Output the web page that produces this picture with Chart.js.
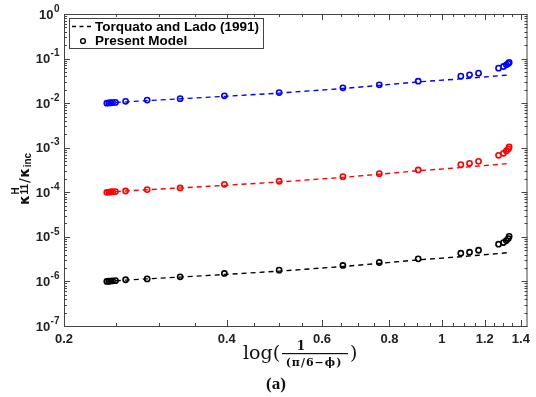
<!DOCTYPE html>
<html>
<head>
<meta charset="utf-8">
<script src="https://cdn.jsdelivr.net/npm/chart.js"></script>
<style>
html, body { margin: 0; padding: 0; background: #fff; }
</style>
</head>
<body>
<canvas id="chart" width="536" height="397"></canvas>
<script>
// x positions of the "Present Model" points and of the Torquato & Lado curve
const xModel = [0.240, 0.242, 0.244, 0.246, 0.249, 0.260, 0.285, 0.328, 0.396, 0.500, 0.656,
                0.766, 0.904, 1.084, 1.125, 1.169, 1.273, 1.300, 1.316, 1.327, 1.332];
const xTheory = [0.240, 0.260, 0.285, 0.328, 0.396, 0.500, 0.656, 0.766, 0.904, 1.084, 1.169, 1.273, 1.335];

const blueModel = [1.00e-2, 1.01e-2, 1.02e-2, 1.03e-2, 1.04e-2, 1.10e-2, 1.17e-2, 1.26e-2, 1.46e-2, 1.73e-2, 2.21e-2,
                   2.58e-2, 3.11e-2, 4.03e-2, 4.32e-2, 4.71e-2, 6.09e-2, 6.64e-2, 7.24e-2, 7.75e-2, 8.20e-2];
const redModel = [1.00e-4, 1.01e-4, 1.02e-4, 1.03e-4, 1.04e-4, 1.07e-4, 1.15e-4, 1.25e-4, 1.51e-4, 1.77e-4, 2.24e-4,
                  2.62e-4, 3.17e-4, 4.17e-4, 4.47e-4, 4.95e-4, 6.76e-4, 7.50e-4, 8.45e-4, 9.30e-4, 1.04e-3];
const blackModel = [1.00e-6, 1.01e-6, 1.02e-6, 1.03e-6, 1.04e-6, 1.09e-6, 1.14e-6, 1.27e-6, 1.51e-6, 1.79e-6, 2.28e-6,
                    2.66e-6, 3.21e-6, 4.30e-6, 4.53e-6, 5.00e-6, 6.84e-6, 7.45e-6, 8.26e-6, 9.17e-6, 1.03e-5];

const blueTheory = [1.00e-2, 1.07e-2, 1.14e-2, 1.25e-2, 1.42e-2, 1.68e-2, 2.13e-2, 2.50e-2, 3.00e-2, 3.50e-2, 3.78e-2, 4.10e-2, 4.32e-2];
const redTheory = [1.00e-4, 1.07e-4, 1.14e-4, 1.25e-4, 1.43e-4, 1.70e-4, 2.16e-4, 2.54e-4, 3.05e-4, 3.58e-4, 3.88e-4, 4.22e-4, 4.45e-4];
const blackTheory = [1.00e-6, 1.07e-6, 1.14e-6, 1.25e-6, 1.43e-6, 1.70e-6, 2.16e-6, 2.54e-6, 3.05e-6, 3.58e-6, 3.88e-6, 4.22e-6, 4.45e-6];

const xTicks = [0.2, 0.4, 0.6, 0.8, 1, 1.2, 1.4];
const yPowers = [0, -1, -2, -3, -4, -5, -6, -7];

const legendLabels = ['Torquato and Lado (1991)', 'Present Model'];

function pts(xs, ys) {
    return xs.map((x, i) => ({ x: x, y: ys[i] }));
}

function theory(ys, color) {
    return {
        label: legendLabels[0],
        data: pts(xTheory, ys),
        showLine: true,
        borderColor: color,
        borderWidth: 1.4,
        borderDash: [5, 4],
        pointRadius: 0,
        tension: 0,
    };
}

function model(ys, color) {
    return {
        label: legendLabels[1],
        data: pts(xModel, ys),
        showLine: false,
        borderColor: color,
        backgroundColor: 'rgba(0,0,0,0)',
        pointRadius: 2.6,
        pointBorderWidth: 1.6,
    };
}

const FRAME = '#444';

const framePlugin = {
    id: 'frame',
    afterDraw(chart) {
        const ctx = chart.ctx;
        const a = chart.chartArea;
        const xs = chart.scales.x, ys = chart.scales.y;
        ctx.save();
        ctx.strokeStyle = FRAME;
        ctx.lineWidth = 1;
        ctx.strokeRect(a.left + 0.5, a.top + 0.5, a.right - a.left - 1, a.bottom - a.top);

        ctx.beginPath();
        // x ticks, inward, top and bottom
        for (let i = 5; i <= 28; i++) {
            const v = i * 0.05;
            const px = Math.round(xs.getPixelForValue(v)) + 0.5;
            const len = (i % 4 === 0) ? 6 : 3;
            ctx.moveTo(px, a.bottom); ctx.lineTo(px, a.bottom - len);
            ctx.moveTo(px, a.top); ctx.lineTo(px, a.top + len);
        }
        // y ticks, inward, left and right
        yPowers.forEach(p => {
            for (let k = 1; k <= 9; k++) {
                if (p === 0 && k > 1) break;
                const v = k * Math.pow(10, p);
                const py = Math.round(ys.getPixelForValue(v)) + 0.5;
                const len = k === 1 ? 6 : 3;
                ctx.moveTo(a.left, py); ctx.lineTo(a.left + len, py);
                ctx.moveTo(a.right, py); ctx.lineTo(a.right - len, py);
            }
        });
        ctx.stroke();

        // y tick labels 10^n
        ctx.fillStyle = '#222';
        ctx.textBaseline = 'middle';
        ctx.textAlign = 'left';
        yPowers.forEach(p => {
            const py = ys.getPixelForValue(Math.pow(10, p));
            const sup = p === 0 ? '0' : '-' + (-p);
            ctx.font = 'bold 10px "Liberation Sans"';
            const sw = ctx.measureText(sup).width;
            ctx.font = 'bold 13px "Liberation Sans"';
            const bw = ctx.measureText('10').width;
            const x0 = a.left - 5 - sw - bw;
            ctx.fillText('10', x0, py + 1);
            ctx.font = 'bold 10px "Liberation Sans"';
            ctx.fillText(sup, x0 + bw + 0.5, py - 5);
        });

        // y axis title, rotated
        ctx.save();
        ctx.translate(29, 205);
        ctx.rotate(-Math.PI / 2);
        ctx.fillStyle = '#111';
        ctx.textBaseline = 'alphabetic';
        let u = 0;
        ctx.font = 'bold 14px "DejaVu Sans"';
        ctx.fillText('\u03BA', u, 0);
        u += ctx.measureText('\u03BA').width + 0.5;
        ctx.font = 'bold 10px "Liberation Sans"';
        ctx.fillText('H', u, -10);
        ctx.fillText('11', u, -1);
        u += ctx.measureText('11').width + 1;
        ctx.font = '14px "DejaVu Sans"';
        ctx.fillText('/', u, 0);
        u += ctx.measureText('/').width + 0.5;
        ctx.font = 'bold 14px "DejaVu Sans"';
        ctx.fillText('\u03BA', u, 0);
        u += ctx.measureText('\u03BA').width + 0.5;
        ctx.font = 'bold 10px "Liberation Sans"';
        ctx.fillText('inc', u, 2);
        ctx.restore();

        // x axis title: log( 1 / (pi/6 - phi) )
        ctx.fillStyle = '#111';
        ctx.textBaseline = 'alphabetic';
        ctx.textAlign = 'left';
        ctx.font = '19px "DejaVu Serif"';
        ctx.fillText('log(', 243, 359);
        ctx.fillText(')', 350, 359);
        ctx.font = 'bold 12px "DejaVu Serif"';
        ctx.textAlign = 'center';
        ctx.fillText('1', 301, 350);
        ctx.font = 'bold 11px "DejaVu Serif"';
        ctx.letterSpacing = '1px';
        ctx.fillText('(\u03C0/6\u2212\u03D5)', 314, 366);
        ctx.letterSpacing = '0px';
        ctx.fillRect(282, 353, 66, 1.2);

        // panel label
        ctx.font = 'bold 17px "Liberation Serif"';
        ctx.fillText('(a)', 276, 389);

        // legend box
        const lx = 69, ly = 18, lw = 194, lh = 30;
        ctx.fillStyle = '#fff';
        ctx.fillRect(lx, ly, lw, lh);
        ctx.strokeStyle = FRAME;
        ctx.lineWidth = 1;
        ctx.strokeRect(lx + 0.5, ly + 0.5, lw, lh);
        ctx.strokeStyle = '#000';
        ctx.lineWidth = 1.4;
        ctx.setLineDash([4, 3.5]);
        ctx.beginPath();
        ctx.moveTo(72, 26.5); ctx.lineTo(94, 26.5);
        ctx.stroke();
        ctx.setLineDash([]);
        ctx.beginPath();
        ctx.arc(83, 41, 2.4, 0, Math.PI * 2);
        ctx.stroke();
        ctx.fillStyle = '#000';
        ctx.textAlign = 'left';
        ctx.textBaseline = 'middle';
        ctx.font = 'bold 13.5px "Liberation Sans"';
        ctx.fillText(legendLabels[0], 95, 27);
        ctx.fillText(legendLabels[1], 95, 41);
        ctx.restore();
    }
};

const config = {
    type: 'scatter',
    data: {
        datasets: [
            theory(blueTheory, 'rgb(0,0,255)'),
            theory(redTheory, 'rgb(255,0,0)'),
            theory(blackTheory, 'rgb(0,0,0)'),
            model(blueModel, 'rgb(0,0,255)'),
            model(redModel, 'rgb(255,0,0)'),
            model(blackModel, 'rgb(0,0,0)'),
        ]
    },
    options: {
        responsive: false,
        devicePixelRatio: 1,
        animation: false,
        layout: { padding: { top: 14, right: 6, left: 0, bottom: 0 } },
        scales: {
            x: {
                type: 'logarithmic',
                min: 0.2,
                max: 1.44,
                grid: { display: false, drawTicks: false },
                border: { display: false },
                afterBuildTicks: (s) => { s.ticks = xTicks.map(v => ({ value: v })); },
                afterFit: (s) => { s.height = 71; },
                ticks: {
                    autoSkip: false,
                    maxRotation: 0,
                    padding: 6,
                    color: '#222',
                    font: { family: 'Liberation Sans', size: 13, weight: 'bold' },
                    callback: (v) => String(v),
                }
            },
            y: {
                type: 'logarithmic',
                min: 1e-7,
                max: 1,
                grid: { display: false, drawTicks: false },
                border: { display: false },
                afterFit: (s) => { s.width = 64; },
                ticks: { display: false }
            }
        },
        plugins: {
            legend: { display: false },
            tooltip: { enabled: false }
        }
    },
    plugins: [framePlugin]
};

new Chart(document.getElementById('chart'), config);
</script>
</body>
</html>
